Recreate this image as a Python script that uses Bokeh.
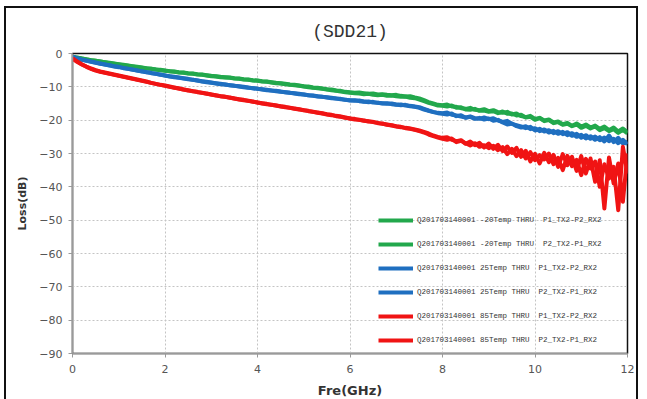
from bokeh.plotting import figure
from bokeh.models import Legend, LegendItem, Range1d, FixedTicker, ColumnDataSource, InlineStyleSheet
from bokeh.embed import file_html
from bokeh.resources import INLINE

# Frequency grid (GHz), 0.1 GHz steps
freq = [round(i * 0.1, 1) for i in range(121)]

g_p1 = [-1.0,-1.3,-1.5,-1.8,-2.0,-2.2,-2.4,-2.6,-2.8,-3.0,
        -3.2,-3.4,-3.6,-3.8,-4.0,-4.2,-4.4,-4.6,-4.8,-4.9,
        -5.1,-5.3,-5.4,-5.6,-5.7,-5.9,-6.0,-6.2,-6.3,-6.5,
        -6.7,-6.8,-7.0,-7.1,-7.2,-7.4,-7.5,-7.7,-7.8,-8.0,
        -8.1,-8.3,-8.4,-8.6,-8.8,-8.9,-9.1,-9.3,-9.4,-9.6,
        -9.8,-9.9,-10.2,-10.3,-10.5,-10.7,-10.8,-11.1,-11.2,-11.5,
        -11.6,-11.8,-11.7,-11.9,-12.1,-12.0,-12.3,-12.2,-12.4,-12.5,
        -12.4,-12.7,-12.9,-12.8,-13.2,-13.5,-14.0,-14.6,-15.0,-15.4,
        -15.5,-15.3,-15.9,-16.0,-16.4,-16.6,-16.3,-16.9,-17.0,-16.7,
        -17.3,-17.0,-17.6,-17.8,-17.5,-18.3,-18.0,-18.8,-19.1,-18.7,
        -19.6,-19.3,-20.1,-19.8,-20.7,-20.4,-21.2,-20.8,-21.7,-21.0,
        -21.9,-21.3,-22.2,-21.6,-22.6,-21.9,-23.0,-22.2,-23.4,-22.5,
        -23.6]
g_p2 = [-1.0,-1.2,-1.5,-1.7,-2.0,-2.2,-2.4,-2.6,-2.9,-3.1,
        -3.3,-3.5,-3.7,-3.9,-4.1,-4.3,-4.5,-4.6,-4.8,-5.0,
        -5.2,-5.3,-5.5,-5.7,-5.8,-6.0,-6.1,-6.3,-6.4,-6.6,
        -6.8,-6.9,-7.1,-7.2,-7.3,-7.5,-7.6,-7.8,-7.9,-8.1,
        -8.2,-8.4,-8.5,-8.7,-8.9,-9.0,-9.2,-9.4,-9.5,-9.7,
        -9.9,-10.1,-10.3,-10.4,-10.6,-10.8,-11.0,-11.2,-11.4,-11.6,
        -11.8,-11.9,-12.0,-12.2,-12.1,-12.4,-12.5,-12.4,-12.7,-12.6,
        -12.8,-13.0,-12.9,-13.3,-13.4,-13.8,-14.3,-14.8,-15.2,-15.6,
        -15.7,-15.9,-15.6,-16.3,-16.1,-16.8,-16.9,-16.6,-17.2,-17.1,
        -17.5,-17.3,-17.9,-17.4,-18.1,-18.0,-18.6,-18.4,-19.2,-19.0,
        -19.9,-19.4,-20.3,-20.0,-20.9,-20.6,-21.4,-21.1,-21.8,-21.3,
        -22.3,-21.7,-22.5,-21.9,-23.0,-22.4,-23.3,-22.7,-23.8,-22.9,
        -24.0]
b_p1 = [-1.0,-1.4,-1.8,-2.1,-2.4,-2.7,-3.0,-3.3,-3.5,-3.8,
        -4.0,-4.3,-4.6,-4.8,-5.1,-5.3,-5.6,-5.8,-6.1,-6.3,
        -6.6,-6.8,-7.0,-7.2,-7.4,-7.6,-7.9,-8.1,-8.3,-8.5,
        -8.7,-8.9,-9.1,-9.3,-9.5,-9.7,-9.8,-10.0,-10.2,-10.4,
        -10.6,-10.7,-10.9,-11.1,-11.2,-11.4,-11.6,-11.8,-11.9,-12.1,
        -12.3,-12.5,-12.6,-12.8,-13.0,-13.1,-13.3,-13.5,-13.6,-13.9,
        -14.0,-14.2,-14.1,-14.4,-14.6,-14.5,-14.8,-14.9,-15.1,-15.0,
        -15.3,-15.5,-15.4,-15.7,-15.9,-16.1,-16.6,-17.1,-17.5,-17.8,
        -17.9,-17.7,-18.4,-18.6,-18.9,-19.2,-18.9,-19.4,-19.6,-19.2,
        -19.7,-19.4,-20.1,-20.5,-20.2,-21.1,-21.5,-21.9,-22.4,-22.0,
        -23.1,-22.6,-23.4,-23.0,-23.9,-23.3,-24.2,-23.6,-24.7,-24.1,
        -25.3,-24.5,-25.6,-24.9,-26.0,-25.2,-26.3,-25.6,-26.9,-25.9,
        -27.2]
b_p2 = [-1.0,-1.5,-1.9,-2.2,-2.5,-2.8,-3.1,-3.3,-3.6,-3.9,
        -4.1,-4.4,-4.6,-4.9,-5.1,-5.4,-5.6,-5.9,-6.1,-6.4,
        -6.6,-6.9,-7.1,-7.3,-7.5,-7.7,-7.9,-8.1,-8.4,-8.6,
        -8.8,-9.0,-9.2,-9.3,-9.5,-9.7,-9.9,-10.1,-10.3,-10.4,
        -10.6,-10.8,-11.0,-11.1,-11.3,-11.5,-11.6,-11.8,-12.0,-12.2,
        -12.3,-12.5,-12.7,-12.9,-13.0,-13.2,-13.4,-13.5,-13.7,-13.9,
        -14.1,-14.0,-14.3,-14.5,-14.4,-14.7,-14.8,-15.0,-14.9,-15.2,
        -15.4,-15.3,-15.6,-15.8,-16.0,-16.3,-16.8,-17.2,-17.6,-17.9,
        -18.1,-18.3,-18.0,-18.8,-18.5,-19.3,-19.0,-19.6,-19.3,-19.8,
        -19.5,-20.2,-19.9,-20.7,-21.3,-21.0,-21.8,-22.2,-21.8,-22.7,
        -22.4,-23.3,-22.8,-23.7,-23.2,-24.1,-23.5,-24.5,-23.9,-25.0,
        -24.4,-25.5,-24.8,-25.9,-25.1,-26.4,-24.6,-26.6,-25.3,-27.0,
        -26.5]
r_p1 = [-1.5,-2.4,-3.2,-3.9,-4.5,-5.0,-5.4,-5.7,-6.0,-6.3,
        -6.6,-6.9,-7.2,-7.5,-7.8,-8.1,-8.4,-8.8,-9.1,-9.4,
        -9.6,-9.9,-10.2,-10.5,-10.8,-11.0,-11.3,-11.5,-11.8,-12.0,
        -12.3,-12.5,-12.8,-13.0,-13.2,-13.5,-13.7,-13.9,-14.2,-14.4,
        -14.7,-14.9,-15.1,-15.4,-15.6,-15.8,-16.0,-16.3,-16.5,-16.7,
        -17.0,-17.2,-17.5,-17.7,-17.9,-18.2,-18.4,-18.7,-18.9,-19.2,
        -19.5,-19.6,-19.9,-20.1,-20.4,-20.5,-20.8,-21.1,-21.3,-21.5,
        -21.8,-22.0,-22.3,-22.5,-22.8,-23.1,-23.5,-24.0,-24.6,-25.0,
        -25.3,-25.1,-25.9,-26.3,-26.0,-27.1,-26.4,-27.5,-26.8,-28.2,
        -27.0,-28.6,-27.4,-29.3,-27.9,-29.8,-28.3,-31.0,-29.2,-32.4,
        -30.1,-33.0,-29.8,-32.6,-30.4,-34.0,-30.2,-33.5,-31.0,-35.2,
        -30.8,-36.0,-31.5,-38.5,-32.0,-46.5,-31.2,-39.0,-33.0,-44.5,
        -30.0]
r_p2 = [-1.5,-2.5,-3.3,-4.0,-4.6,-5.1,-5.5,-5.8,-6.1,-6.4,
        -6.7,-7.0,-7.3,-7.6,-7.9,-8.2,-8.5,-8.8,-9.1,-9.4,
        -9.7,-10.0,-10.3,-10.5,-10.8,-11.1,-11.3,-11.6,-11.8,-12.1,
        -12.3,-12.6,-12.8,-13.0,-13.3,-13.5,-13.8,-14.0,-14.2,-14.5,
        -14.7,-15.0,-15.2,-15.4,-15.6,-15.9,-16.1,-16.3,-16.6,-16.8,
        -17.0,-17.3,-17.5,-17.8,-18.0,-18.3,-18.5,-18.8,-19.0,-19.3,
        -19.5,-19.8,-19.9,-20.2,-20.3,-20.6,-20.9,-21.0,-21.4,-21.6,
        -21.9,-22.1,-22.4,-22.6,-22.9,-23.3,-23.7,-24.3,-24.8,-25.2,
        -25.6,-25.9,-25.5,-26.6,-26.2,-26.9,-27.6,-26.9,-28.0,-27.5,
        -28.4,-27.7,-29.0,-28.1,-30.2,-28.6,-30.8,-29.0,-31.5,-29.6,
        -32.0,-30.5,-31.8,-30.0,-33.2,-31.3,-35.0,-30.7,-33.8,-31.9,
        -36.5,-31.6,-34.5,-32.4,-40.0,-33.2,-37.5,-34.0,-47.0,-28.0,
        -36.0]

series_labels = [
    "Q201703140001 -20Temp THRU  P1_TX2-P2_RX2",
    "Q201703140001 -20Temp THRU  P2_TX2-P1_RX2",
    "Q201703140001 25Temp THRU  P1_TX2-P2_RX2",
    "Q201703140001 25Temp THRU  P2_TX2-P1_RX2",
    "Q201703140001 85Temp THRU  P1_TX2-P2_RX2",
    "Q201703140001 85Temp THRU  P2_TX2-P1_RX2",
]
series_values = [g_p1, g_p2, b_p1, b_p2, r_p1, r_p2]
series_colors = ["#22a84c", "#22a84c", "#1f6fc0", "#1f6fc0", "#f01414", "#f01414"]

x_ticks = [0, 2, 4, 6, 8, 10, 12]
y_ticks = [0, -10, -20, -30, -40, -50, -60, -70, -80, -90]

frame_css = InlineStyleSheet(
    css=":host { border: 2px solid #111; border-bottom: none; margin: 6px 0 0 4px; }")

p = figure(width=634, height=393, output_backend="svg", toolbar_location=None,
           x_range=Range1d(0, 12), y_range=Range1d(-90, 0),
           min_border_left=66, min_border_right=13, min_border_top=45,
           min_border_bottom=48, stylesheets=[frame_css])

p.title.text = "(SDD21)"
p.title.align = "center"
p.title.text_font = "Liberation Mono"
p.title.text_font_size = "18px"
p.title.text_font_style = "normal"
p.title.text_color = "#333333"
p.title.standoff = 23

p.outline_line_color = "#111111"
p.outline_line_width = 1.5

for ax in (p.xaxis[0], p.yaxis[0]):
    ax.axis_line_color = "#9a9a9a"
    ax.axis_line_width = 1.5
    ax.major_tick_line_color = "#9a9a9a"
    ax.major_tick_out = 4
    ax.major_tick_in = 0
    ax.minor_tick_line_color = None
    ax.major_label_text_font = "DejaVu Sans"
    ax.major_label_text_font_size = "11px"
    ax.major_label_text_color = "#555555"
    ax.axis_label_text_font = "DejaVu Sans"
    ax.axis_label_text_color = "#333333"

p.xaxis.ticker = FixedTicker(ticks=x_ticks)
p.yaxis.ticker = FixedTicker(ticks=y_ticks)
p.xaxis.axis_label = "Fre(GHz)"
p.xaxis.axis_label_text_font_size = "13px"
p.xaxis.axis_label_text_font_style = "bold"
p.xaxis.axis_label_standoff = 7
p.xaxis.major_label_standoff = 7
p.yaxis.axis_label = "Loss(dB)"
p.yaxis.axis_label_text_font_size = "11px"
p.yaxis.axis_label_text_font_style = "bold"
p.yaxis.axis_label_standoff = 7
p.yaxis.major_label_standoff = 6

for g in (p.xgrid[0], p.ygrid[0]):
    g.grid_line_color = "#c4c4c4"
    g.grid_line_dash = "2 2"
    g.grid_line_width = 1

items = []
for lab, vals, col in zip(series_labels, series_values, series_colors):
    src = ColumnDataSource(dict(x=freq, y=vals))
    r = p.line("x", "y", source=src, line_color=col, line_width=4, line_join="round")
    items.append(LegendItem(label=lab, renderers=[r]))

legend = Legend(items=items, location=(306, 3), orientation="vertical",
                label_text_font="Liberation Mono", label_text_font_size="7.5px",
                label_text_color="#333333",
                glyph_width=35, glyph_height=20, label_height=20, spacing=4,
                padding=0, margin=0, label_standoff=4,
                border_line_alpha=0, background_fill_alpha=0)
p.add_layout(legend)

open("out.html", "w").write(file_html(p, INLINE))
